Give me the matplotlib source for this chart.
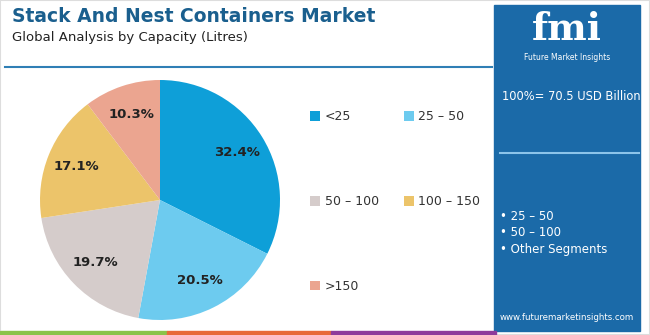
import matplotlib.pyplot as plt
from matplotlib.patches import Rectangle

# Market share by capacity (litres)
segments = ["<25", "25 – 50", "50 – 100", "100 – 150", ">150"]
shares = [32.4, 20.5, 19.7, 17.1, 10.3]
colors = ["#0e9fd8", "#6dcbef", "#d5cccb", "#ecc46a", "#eba590"]

panel_total = "100%= 70.5 USD Billion"
panel_items = ["25 – 50", "50 – 100", "Other Segments"]

W, H = 650, 335
fig = plt.figure(figsize=(W / 100, H / 100), dpi=100)
fig.patch.set_facecolor("white")


def fx(px):
    return px / W


def fy(py):
    return 1 - py / H


# light frame
fig.patches.append(Rectangle((0, 0), 1, 1, transform=fig.transFigure,
                             fill=False, edgecolor="#dddddd", lw=1.5))

# title block
fig.text(fx(12), fy(17), "Stack And Nest Containers Market", fontsize=13.5,
         fontweight="bold", color="#1a5f8e", va="center", ha="left")
fig.text(fx(12), fy(38), "Global Analysis by Capacity (Litres)", fontsize=9.5,
         color="#222222", va="center", ha="left")
fig.add_artist(plt.Line2D([fx(5), fx(492)], [fy(67), fy(67)],
                          transform=fig.transFigure, color="#2f7fb5", lw=1.5))

# bottom colour strip
strip = [("#8bc34a", 0, 167), ("#e86a3a", 167, 331), ("#8e3a9b", 331, 496)]
for c, x0, x1 in strip:
    fig.patches.append(Rectangle((fx(x0), 0), fx(x1 - x0), 4 / H,
                                 transform=fig.transFigure, color=c))

# right panel
fig.patches.append(Rectangle((fx(494), fy(331)), fx(146), (331 - 5) / H,
                             transform=fig.transFigure, color="#1b6aa8", zorder=0))
fig.text(fx(567), fy(30), "fmi", fontsize=27, fontweight="bold", color="white",
         ha="center", va="center", family="DejaVu Serif")
fig.text(fx(567), fy(57), "Future Market Insights", fontsize=5.5, color="white",
         ha="center", va="center")
fig.text(fx(502), fy(97), panel_total, fontsize=8.3, color="white",
         ha="left", va="center")
fig.add_artist(plt.Line2D([fx(500), fx(639)], [fy(153), fy(153)],
                          transform=fig.transFigure, color="#8cc4ea", lw=1.5))
for i, item in enumerate(panel_items):
    fig.text(fx(500), fy(216 + i * 16.5), "• " + item, fontsize=8.5,
             color="white", ha="left", va="center")
fig.text(fx(567), fy(318), "www.futuremarketinsights.com", fontsize=6.2,
         color="white", ha="center", va="center")

# pie
ax = fig.add_axes([fx(40), fy(320), fx(240), 240 / H])
wedges, _, autotexts = ax.pie(shares, colors=colors, startangle=90,
                              counterclock=False, autopct="%1.1f%%",
                              pctdistance=0.75,
                              textprops=dict(fontsize=9.5, fontweight="bold",
                                             color="#222222"))
ax.set_xlim(-1, 1)
ax.set_ylim(-1, 1)
ax.set_aspect("equal")

# legend, reordered so that it reads row by row
order = [0, 2, 4, 1, 3]
leg = fig.legend([wedges[i] for i in order], [segments[i] for i in order],
                 loc="upper left", bbox_to_anchor=(fx(299), fy(99)), ncol=2,
                 frameon=False, fontsize=9, handlelength=0.8, handleheight=0.8,
                 handletextpad=0.35, labelspacing=5.75, columnspacing=2.0)
for t in leg.get_texts():
    t.set_color("#333333")

fig.savefig("out.png", dpi=100)
